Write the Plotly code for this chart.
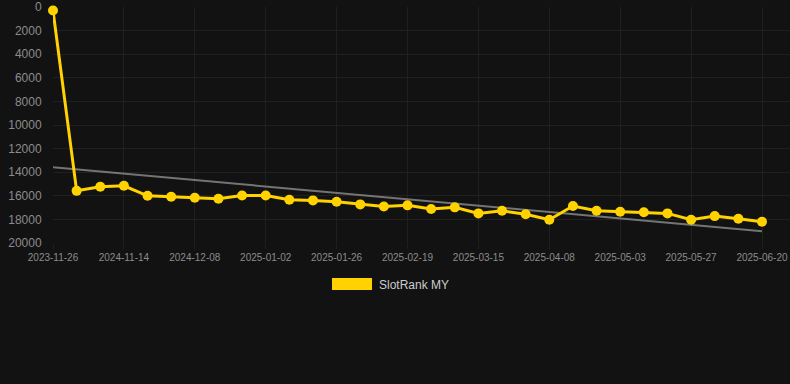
import numpy as np
import plotly.graph_objects as go

dates = [
    "2023-11-26", "2024-10-29", "2024-11-06", "2024-11-14", "2024-11-22",
    "2024-11-30", "2024-12-08", "2024-12-16", "2024-12-24", "2025-01-02",
    "2025-01-10", "2025-01-18", "2025-01-26", "2025-02-03", "2025-02-11",
    "2025-02-19", "2025-02-27", "2025-03-07", "2025-03-15", "2025-03-23",
    "2025-03-31", "2025-04-08", "2025-04-16", "2025-04-24", "2025-05-03",
    "2025-05-11", "2025-05-19", "2025-05-27", "2025-06-04", "2025-06-12",
    "2025-06-20",
]
rank = [
    300, 15580, 15240, 15150, 16000, 16080, 16170, 16250, 15970, 15970,
    16340, 16390, 16510, 16730, 16900, 16810, 17120, 16980, 17490, 17270,
    17570, 18030, 16870, 17270, 17350, 17400, 17490, 18030, 17720, 17950,
    18200,
]
y_ticks = [0, 2000, 4000, 6000, 8000, 10000, 12000, 14000, 16000, 18000, 20000]
y_tick_labels = [str(v) for v in y_ticks]
x_ticks = dates[::3]
series_name = "SlotRank MY"

YELLOW = "#FFD200"
BG = "#121212"
GRID = "#202020"
TICK = "#8c8c8c"

idx = np.arange(len(rank))
slope, icpt = np.polyfit(idx, rank, 1)
trend = slope * idx + icpt

fig = go.Figure()
fig.add_trace(go.Scatter(
    x=dates, y=trend, mode="lines",
    line=dict(color="rgba(150,150,150,0.75)", width=2),
    showlegend=False, hoverinfo="skip",
))
fig.add_trace(go.Scatter(
    x=dates, y=rank, mode="lines+markers", name=series_name,
    line=dict(color=YELLOW, width=3),
    marker=dict(color=YELLOW, size=10),
    cliponaxis=False, showlegend=False,
))

W, H = 790, 384
left, right, top, bottom = 53, 0, 6.5, 141
plot_h = H - top - bottom
n = len(dates)
px_per = (762 - 53) / (n - 1)
xmax = (W - left - right) / px_per

def py(p):
    return (H - bottom - p) / plot_h

def px(p):
    return (p - left) / (W - left - right)

fig.add_shape(type="rect", xref="paper", yref="paper",
              x0=px(332), x1=px(372), y0=py(290), y1=py(278),
              fillcolor=YELLOW, line=dict(width=0))
fig.add_annotation(xref="paper", yref="paper", x=px(377), y=py(285),
                   text=series_name, showarrow=False, xanchor="left",
                   yanchor="middle", font=dict(size=12, color="#cccccc"))

fig.update_layout(
    width=W, height=H,
    margin=dict(l=left, r=right, t=top, b=bottom),
    paper_bgcolor=BG, plot_bgcolor=BG,
    font=dict(family="Liberation Sans, Arial, sans-serif", color=TICK),
    xaxis=dict(
        type="category", range=[0, xmax],
        tickvals=x_ticks, ticktext=x_ticks,
        showgrid=True, gridcolor=GRID, gridwidth=1,
        zeroline=False, showline=False,
        ticks="outside", ticklen=5, tickcolor=GRID,
        tickfont=dict(size=10, color=TICK),
    ),
    yaxis=dict(
        range=[20000, 0], tickvals=y_ticks, ticktext=y_tick_labels,
        showgrid=True, gridcolor=GRID, gridwidth=1,
        zeroline=False, showline=False,
        ticks="outside", ticklen=8, tickcolor="rgba(0,0,0,0)",
        tickfont=dict(size=12, color=TICK),
    ),
    showlegend=False,
)

fig.write_html("out.html")
